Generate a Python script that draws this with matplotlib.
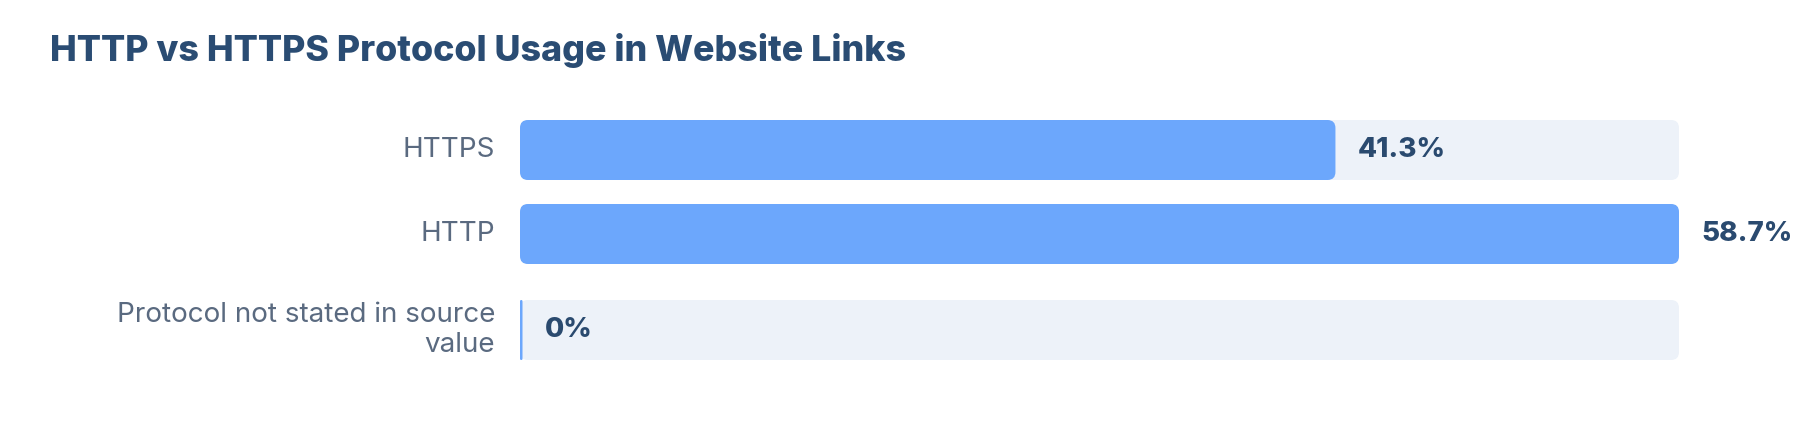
import matplotlib
matplotlib.use("Agg")
import matplotlib.pyplot as plt
from matplotlib.patches import FancyBboxPatch

# data
categories = ["HTTPS", "HTTP", "Protocol not stated in source\nvalue"]
shares = [41.3, 58.7, 0.0]
value_labels = ["41.3%", "58.7%", "0%"]
title = "HTTP vs HTTPS Protocol Usage in Website Links"

BAR = "#6ca7fc"
TRACK = "#edf2f9"
TITLE_C = "#2a4c73"
LABEL_C = "#5a6a80"
VALUE_C = "#2a4a6f"

plt.rcParams['font.family'] = ['Inter', 'DejaVu Sans']

W, H, DPI = 1800, 428, 100
fig = plt.figure(figsize=(W / DPI, H / DPI), dpi=DPI)

# plot area in pixels: x 520..1679, y 120..360
x0, x1, y0, y1 = 520, 1679, 120, 360
ax = fig.add_axes([x0 / W, 1 - y1 / H, (x1 - x0) / W, (y1 - y0) / H])
vmax = max(shares)
ax.set_xlim(0, vmax)
ax.set_ylim(4, 0)
ax.axis("off")

ypos = [0.5, 1.9, 3.5]   # row centres, 1 unit = 60 px
bar_h = 1.0
xpp = vmax / (x1 - x0)    # data units per pixel in x
ypp = 4 / (y1 - y0)
asp = ypp / xpp
r = 8 * xpp

def rbar(x, y, w, h, color, z):
    p = FancyBboxPatch((x, y - h / 2), w, h,
                       boxstyle="round,pad=0,rounding_size=%f" % min(r, w / 2),
                       mutation_aspect=asp, fc=color, ec="none", zorder=z,
                       clip_on=False)
    ax.add_patch(p)

for cat, v, lab, y in zip(categories, shares, value_labels, ypos):
    rbar(0, y, vmax, bar_h, TRACK, 1)
    w = max(v, 2.5 * xpp)
    rbar(0, y, w, bar_h, BAR, 2)
    ax.text(w + 22 * xpp, y, lab, ha="left", va="center", fontsize=20,
            fontweight="heavy", color=VALUE_C, clip_on=False)
    ax.text(-25 * xpp, y, cat, ha="right", va="center", fontsize=20,
            color=LABEL_C, linespacing=1.25, multialignment="right",
            clip_on=False)

fig.text(50 / W, 1 - 61 / H, title, ha="left", va="baseline",
         fontsize=25.8, fontweight="heavy", color=TITLE_C)

fig.savefig("out.png", dpi=DPI, facecolor="white")
